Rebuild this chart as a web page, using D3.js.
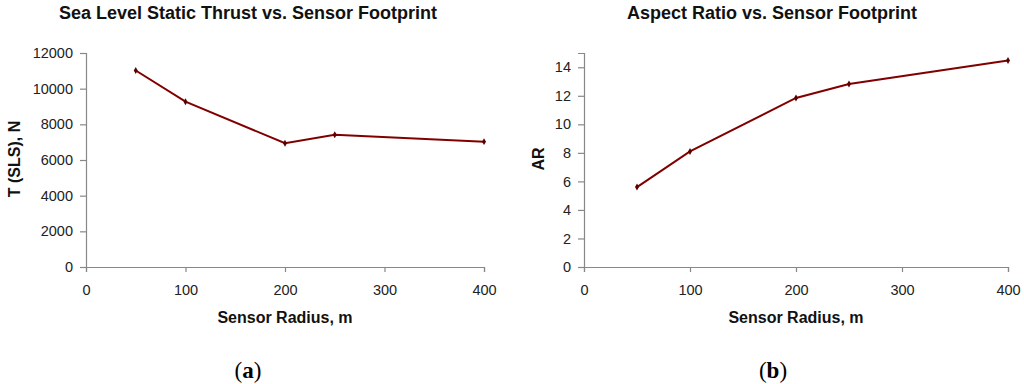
<!DOCTYPE html>
<html>
<head>
<meta charset="utf-8">
<script src="https://cdn.jsdelivr.net/npm/d3@7"></script>
<style>
  body { margin: 0; background: #fff; }
  svg { display: block; font-family: Arial, "Liberation Sans", sans-serif; }
</style>
</head>
<body>
<svg id="chart" width="1024" height="384"></svg>
<script>
// data
const sensorRadius = [50, 100, 200, 250, 400];
const thrustSLS = [11020, 9270, 6940, 7420, 7030];
const aspectRatio = [5.6, 8.1, 11.85, 12.83, 14.47];

const xTicks = [0, 100, 200, 300, 400];
const thrustTicks = [0, 2000, 4000, 6000, 8000, 10000, 12000];
const arTicks = [0, 2, 4, 6, 8, 10, 12, 14];

const svg = d3.select('#chart');
const axisColor = '#888';
const lineColor = '#800000';

function draw_panel(opt){
  const g = svg.append('g').attr('transform', `translate(${opt.left}, ${opt.top})`);
  const w = opt.width, h = opt.height;

  const x = d3.scaleLinear().domain([0, 400]).range([0, w]);
  const y = d3.scaleLinear().domain(opt.ydomain).range([h, 0]);

  // y axis
  const ya = g.append('g')
    .call(d3.axisLeft(y).tickValues(opt.yticks).tickSize(6).tickPadding(7).tickFormat(d3.format('d')));
  // x axis
  const xa = g.append('g')
    .attr('transform', `translate(0, ${h})`)
    .call(d3.axisBottom(x).tickValues(xTicks).tickSize(5).tickPadding(13).tickFormat(d3.format('d')));

  [ya, xa].forEach((a) => {
    a.select('.domain').attr('stroke', axisColor).attr('stroke-width', 1.2);
    a.selectAll('.tick line').attr('stroke', axisColor).attr('stroke-width', 1.2);
    a.selectAll('text')
      .attr('fill', '#222')
      .style('font-size', '14.5px')
      .style('font-family', 'Arial, "Liberation Sans", sans-serif');
  });

  // data line
  const line = d3.line()
    .x((d) => x(d[0]))
    .y((d) => y(d[1]));
  const pts = sensorRadius.map((r, i) => [r, opt.values[i]]);

  g.append('path')
    .datum(pts)
    .attr('fill', 'none')
    .attr('stroke', lineColor)
    .attr('stroke-width', 2)
    .attr('d', line);

  g.selectAll('path.marker')
    .data(pts)
    .enter().append('path')
    .attr('class', 'marker')
    .attr('d', d3.symbol().type(d3.symbolDiamond).size(14))
    .attr('transform', (d) => `translate(${x(d[0])}, ${y(d[1])})`)
    .attr('fill', '#5a0000');

  // title
  svg.append('text')
    .attr('x', opt.left + w / 2 + opt.titleDx)
    .attr('y', 19)
    .attr('text-anchor', 'middle')
    .style('font-size', '18px')
    .style('font-weight', 'bold')
    .attr('fill', '#111')
    .text(opt.title);

  // x label
  g.append('text')
    .attr('x', w / 2)
    .attr('y', h + 56)
    .attr('text-anchor', 'middle')
    .style('font-size', '16px')
    .style('font-weight', 'bold')
    .attr('fill', '#111')
    .text('Sensor Radius, m');

  // y label
  g.append('text')
    .attr('transform', `translate(${opt.ylabX}, ${h / 2 - 1}) rotate(-90)`)
    .attr('text-anchor', 'middle')
    .style('font-size', '16px')
    .style('font-weight', 'bold')
    .attr('fill', '#111')
    .text(opt.ylabel);

  // panel tag
  const tag = svg.append('text')
    .attr('x', opt.tagX)
    .attr('y', 378)
    .attr('text-anchor', 'middle')
    .style('font-family', '"Liberation Serif", "Times New Roman", serif')
    .style('font-size', '23px')
    .attr('fill', '#000');
  tag.append('tspan').text('(');
  tag.append('tspan').style('font-weight', 'bold').text(opt.tag);
  tag.append('tspan').text(')');
}

draw_panel({
  left: 86, top: 53, width: 398, height: 214,
  ydomain: [0, 12000], yticks: thrustTicks, values: thrustSLS,
  title: 'Sea Level Static Thrust vs. Sensor Footprint', titleDx: -37,
  ylabel: 'T (SLS), N', ylabX: -66,
  tag: 'a', tagX: 248
});

draw_panel({
  left: 584, top: 53, width: 424, height: 214,
  ydomain: [0, 15], yticks: arTicks, values: aspectRatio,
  title: 'Aspect Ratio vs. Sensor Footprint', titleDx: -24,
  ylabel: 'AR', ylabX: -40,
  tag: 'b', tagX: 773
});
</script>
</body>
</html>
